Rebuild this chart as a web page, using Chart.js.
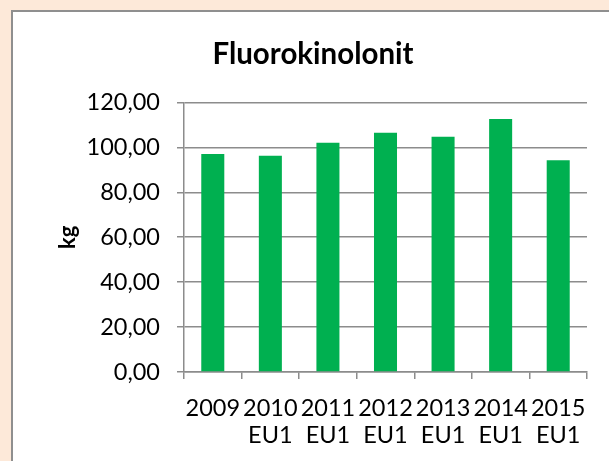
<!DOCTYPE html>
<html>
<head>
<meta charset="utf-8">
<script src="https://cdn.jsdelivr.net/npm/chart.js@4/dist/chart.umd.min.js"></script>
<style>
  html, body { margin: 0; padding: 0; background: #fde9d9; width: 609px; height: 461px; overflow: hidden; }
  #box { position: absolute; left: 11px; top: 10px; width: 620px; height: 470px; background: #ffffff; border: 2px solid #8f8f8f; box-sizing: border-box; }
  #wrap { position: absolute; left: 0; top: 0; width: 609px; height: 461px; }
</style>
</head>
<body>
<div id="box"></div>
<div id="wrap"><canvas id="c" width="609" height="461"></canvas></div>
<script>
const chartTitle = "Fluorokinolonit";
const yAxisTitle = "kg";
const categories = [["2009"], ["2010", "EU1"], ["2011", "EU1"], ["2012", "EU1"], ["2013", "EU1"], ["2014", "EU1"], ["2015", "EU1"]];
const values = [97.0, 96.3, 102.0, 106.5, 104.7, 112.6, 94.2];
const yMin = 0, yMax = 120, yStep = 20;

const FONT = "Lato, 'Open Sans', sans-serif";

new Chart(document.getElementById('c'), {
  type: 'bar',
  data: {
    labels: categories,
    datasets: [{
      data: values,
      backgroundColor: '#00b050',
      borderWidth: 0,
      categoryPercentage: 1,
      barPercentage: 0.4
    }]
  },
  options: {
    responsive: false,
    animation: false,
    devicePixelRatio: 1,
    layout: { padding: { left: 39, right: 22, top: 0, bottom: 0 } },
    plugins: {
      legend: { display: false },
      tooltip: { enabled: false },
      title: {
        display: true,
        text: chartTitle,
        color: '#000',
        font: { family: FONT, size: 29.5, weight: 'bold', lineHeight: 1.2 },
        padding: { top: 37, bottom: 30 }
      }
    },
    scales: {
      x: {
        grid: { display: true, drawOnChartArea: false, drawTicks: true, tickLength: 7, color: '#8c8c8c', lineWidth: 1.5, offset: true },
        border: { display: true, color: '#8c8c8c', width: 1.5 },
        ticks: { color: '#000', font: { family: FONT, size: 23.5, lineHeight: 1.15 }, padding: 16, maxRotation: 0, autoSkip: false },
        afterFit: (s) => { s.height = 89; }
      },
      y: {
        min: yMin, max: yMax,
        grid: { color: '#8c8c8c', lineWidth: 1.5, tickLength: 7 },
        border: { display: true, color: '#8c8c8c', width: 1.5 },
        ticks: {
          stepSize: yStep,
          color: '#000',
          font: { family: FONT, size: 23.5 },
          padding: 17,
          callback: (v) => v.toFixed(2).replace('.', ',')
        },
        title: {
          display: true,
          text: yAxisTitle,
          color: '#000',
          font: { family: FONT, size: 22, weight: 'bold', lineHeight: 1.2 },
          padding: { top: 16, bottom: 0 }
        },
        afterFit: (s) => { s.width = 145; }
      }
    }
  }
});
</script>
</body>
</html>
